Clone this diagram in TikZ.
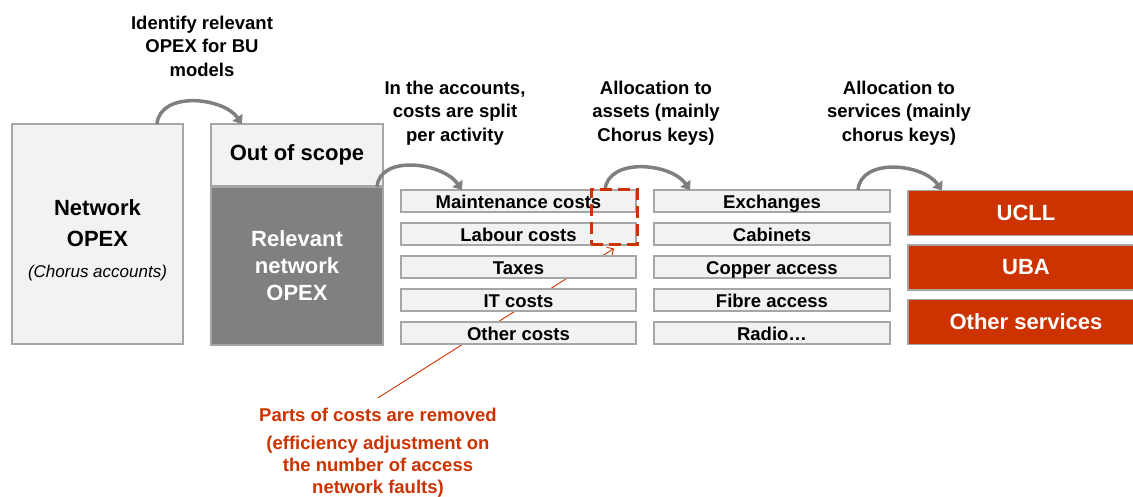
\documentclass[tikz,border=0pt]{standalone}
\usepackage{fontspec}
\setmainfont{Liberation Sans}
\usetikzlibrary{arrows.meta,backgrounds}
\definecolor{boxgray}{HTML}{F2F2F2}
\definecolor{relgray}{HTML}{808080}
\definecolor{edgegray}{HTML}{A6A6A6}
\definecolor{flowgray}{HTML}{7F7F7F}
\definecolor{bured}{HTML}{CC3300}

\begin{document}
\begin{tikzpicture}[x=1pt, y=-1pt,
    box/.style={draw=edgegray, line width=1.3pt, fill=boxgray, inner sep=0pt, outer sep=0pt, align=center},
    bigbox/.style={box, minimum width=171pt, font=\fontsize{22}{31}\selectfont\bfseries},
    costbox/.style={box, minimum width=235pt, minimum height=22pt, text height=18pt, text depth=4pt, font=\fontsize{18.5}{22}\selectfont\bfseries},
    svcbox/.style={box, fill=bured, text=white, minimum width=236pt, minimum height=45pt, font=\fontsize{22}{26}\selectfont\bfseries},
    steplabel/.style={align=center, font=\fontsize{18.5}{23.5}\selectfont\bfseries},
    flow/.style={draw=flowgray, line width=3.5pt, -{Triangle[width=12pt,length=8pt]}},
    cutbox/.style={draw=bured, line width=3pt, dash pattern=on 12pt off 6pt, minimum width=46pt, minimum height=55pt, inner sep=0pt},
    noteline/.style={draw=bured, line width=0.9pt, -{Straight Barb[length=5pt,width=10pt]}}]

    \useasboundingbox (0,0) rectangle (1133,496);

    % Left part: all network OPEX, then split into out of scope / relevant
    \node[bigbox, minimum height=220pt, text height=90pt] (netopex) at (97.5,234) {Network\\OPEX\\{\fontsize{17}{20}\selectfont\mdseries\itshape (Chorus accounts)}};
    \node[bigbox, minimum width=172pt, minimum height=62pt] (outscope) at (297,155) {Out of scope};
    \node[bigbox, minimum width=172pt, minimum height=158pt, fill=relgray, text=white, font=\fontsize{22}{27}\selectfont\bfseries] (relopex) at (297,266) {Relevant\\network\\OPEX};

    % Cost rows and asset rows
    \foreach \i/\txt in {1/Maintenance costs, 2/Labour costs, 3/Taxes, 4/IT costs, 5/Other costs} {
        \node[costbox] (cost\i) at (518.5,{168+\i*33}) {\txt};
    }
    \foreach \i/\txt in {1/Exchanges, 2/Cabinets, 3/Copper access, 4/Fibre access, 5/Radio…} {
        \node[costbox, minimum width=236pt] (asset\i) at (772,{168+\i*33}) {\txt};
    }

    % Services (box runs off the right edge)
    \foreach \i/\txt in {1/UCLL, 2/UBA, 3/Other services} {
        \node[svcbox] (svc\i) at (1026,{158.5+\i*54.5}) {\txt};
    }

    % Step labels above the arrows
    \node[steplabel] (lblidentify) at (202,46) {Identify relevant\\OPEX for BU\\models};
    \node[steplabel] (lblsplit) at (455,113) {In the accounts,\\costs are split\\per activity};
    \node[steplabel] (lblassets) at (656,113) {Allocation to\\assets (mainly\\Chorus keys)};
    \node[steplabel] (lblservices) at (899,113) {Allocation to\\services (mainly\\chorus keys)};

    % Curved step arrows
    \draw[flow] ([xshift=-26pt]netopex.north east) to[out=85,in=125] ([xshift=31pt]outscope.north west);
    \draw[flow] ([xshift=-6pt]relopex.north east) to[out=85,in=125] ([xshift=61pt]cost1.north west);
    \draw[flow] ([xshift=-31pt]cost1.north east) to[out=85,in=125] ([xshift=36pt]asset1.north west);
    \draw[flow] ([xshift=-32pt]asset1.north east) to[out=85,in=125] ([xshift=34pt]svc1.north west);

    % Efficiency adjustment
    \node[cutbox] (cut) at (614,216.5) {};
    \node[align=center, text=bured, font=\fontsize{18.5}{22}\selectfont\bfseries] (note) at (378,453)
        {Parts of costs are removed\\[6pt](efficiency adjustment on\\the number of access\\network faults)};
    \begin{scope}[on background layer]
        \draw[noteline] ([yshift=7pt]note.north) -- ([yshift=-3pt]cut.south);
    \end{scope}
\end{tikzpicture}
\end{document}
